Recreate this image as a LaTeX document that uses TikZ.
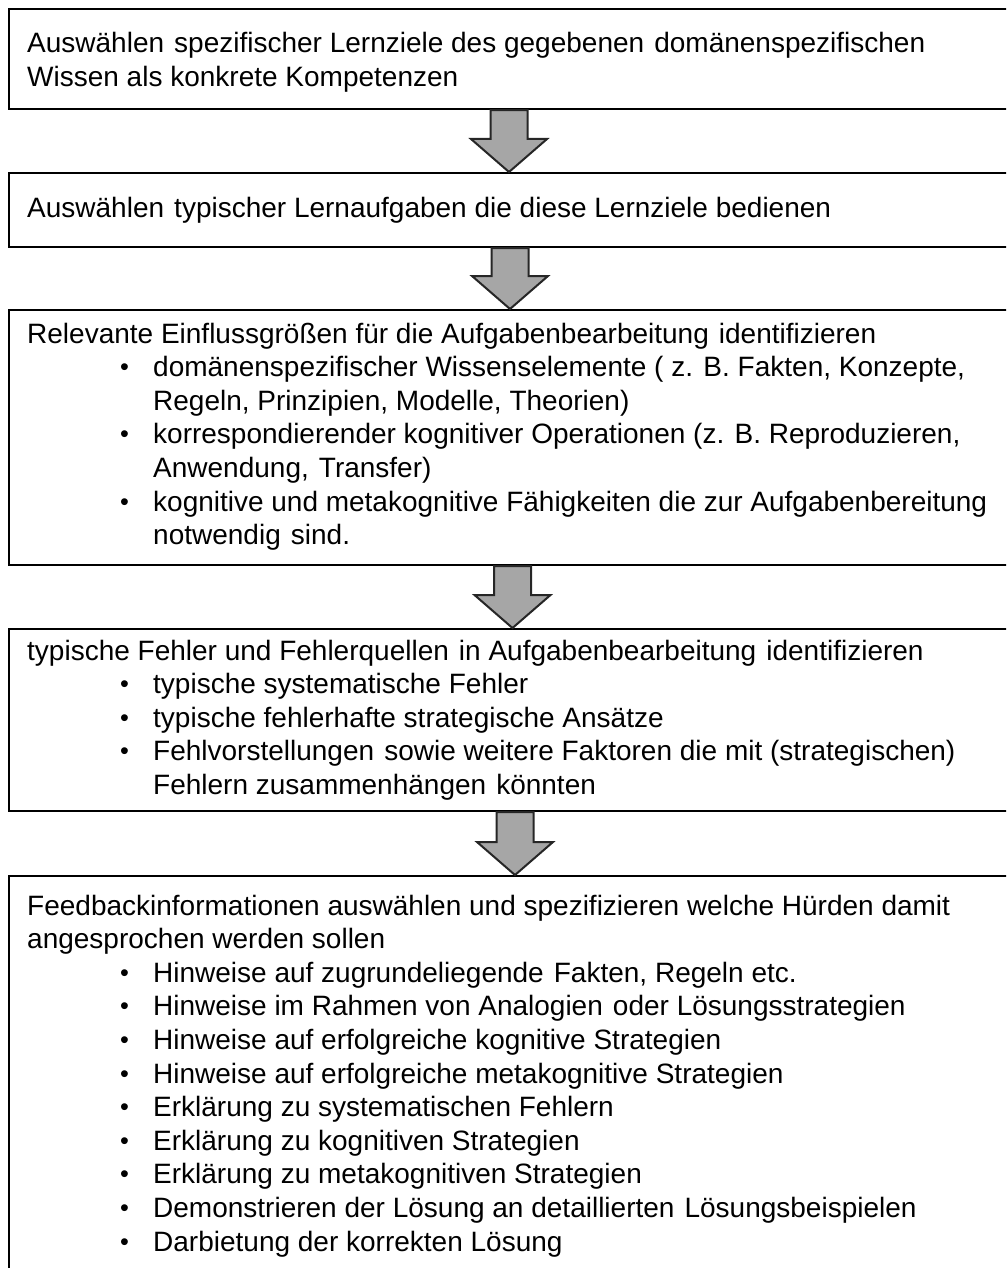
\documentclass[tikz,border=0pt]{standalone}
\usepackage{fontspec}
\usepackage{graphicx}
\setmainfont{Liberation Sans}
\usetikzlibrary{calc}

\tikzset{
  stage/.style={draw=black, line width=2.2pt, fill=white, anchor=north west,
                minimum width=1012pt, inner sep=0pt},
  stagetext/.style={anchor=base west, inner sep=0pt},
  flow/.style={draw=black!85, line width=2pt, fill=black!35, line join=miter},
}

% one block of text lines with fixed line pitch
\newcommand\lines[1]{\parbox[t]{960pt}{\fontsize{28pt}{33.6pt}\selectfont
  \lineskiplimit=-20pt #1}}
% bullet line: bullet indented, text on a fixed tab
\newcommand\bul[1]{\hspace*{93pt}\makebox[33pt][l]{\raisebox{1pt}{\scalebox{0.9}{•}}}#1}
\newcommand\cont[1]{\hspace*{126pt}#1}
% slightly wider word gap
\newcommand\gap{\hspace{0.36em}}

% block arrow from the bottom of one stage to the top of the next
\newcommand\flowarrow[3]{%
  \draw[flow] let \p1=(#1.south), \p2=(#2.north) in
    ({#3pt-18.5pt},\y1) -- ({#3pt+18.5pt},\y1) -- ({#3pt+18.5pt},\y2+33pt)
    -- ({#3pt+38pt},\y2+33pt) -- (#3pt,\y2) -- ({#3pt-38pt},\y2+33pt)
    -- ({#3pt-18.5pt},\y2+33pt) -- cycle;}

\begin{document}
\begin{tikzpicture}[x=1pt,y=-1pt]
\useasboundingbox (0,0) rectangle (1006,1268);
\clip (0,0) rectangle (1006,1268);

% stages
\node[stage, minimum height=100pt] (s1) at (8,8) {};
\node[stage, minimum height=74pt]  (s2) at (8,172) {};
\node[stage, minimum height=255pt] (s3) at (8,309) {};
\node[stage, minimum height=182pt] (s4) at (8,628) {};
\node[stage, minimum height=415pt] (s5) at (8,875) {};

% stage texts
\node[stagetext] (t1) at (27,53) {\lines{%
  Auswählen\gap spezifischer Lernziele des gegebenen\gap domänenspezifischen\\
  Wissen als konkrete Kompetenzen}};
\node[stagetext] (t2) at (27,218) {\lines{%
  Auswählen\gap typischer Lernaufgaben die diese Lernziele bedienen}};
\node[stagetext] (t3) at (27,343) {\lines{%
  Relevante Einflussgrößen für die Aufgabenbearbeitung\gap identifizieren\\
  \bul{domänenspezifischer Wissenselemente ( z. B. Fakten, Konzepte,}\\
  \cont{Regeln, Prinzipien, Modelle, Theorien)}\\
  \bul{korrespondierender kognitiver Operationen (z. B. Reproduzieren,}\\
  \cont{Anwendung,\gap Transfer)}\\
  \bul{kognitive  und  metakognitive  Fähigkeiten die zur Aufgabenbereitung}\\
  \cont{notwendig\gap sind.}}};
\node[stagetext] (t4) at (27,660) {\lines{%
  typische Fehler und Fehlerquellen\gap in Aufgabenbearbeitung\gap identifizieren\\
  \bul{typische systematische Fehler}\\
  \bul{typische fehlerhafte strategische Ansätze}\\
  \bul{Fehlvorstellungen\gap sowie weitere Faktoren die mit (strategischen)}\\
  \cont{Fehlern zusammenhängen\gap könnten}}};
\node[stagetext] (t5) at (27,915) {\lines{%
  Feedbackinformationen  auswählen  und  spezifizieren welche Hürden damit\\
  angesprochen werden sollen\\
  \bul{Hinweise auf zugrundeliegende\gap Fakten, Regeln etc.}\\
  \bul{Hinweise im Rahmen von Analogien\gap oder Lösungsstrategien}\\
  \bul{Hinweise auf erfolgreiche kognitive  Strategien}\\
  \bul{Hinweise auf erfolgreiche metakognitive  Strategien}\\
  \bul{Erklärung zu systematischen Fehlern}\\
  \bul{Erklärung zu kognitiven  Strategien}\\
  \bul{Erklärung zu metakognitiven  Strategien}\\
  \bul{Demonstrieren der Lösung an detaillierten\gap Lösungsbeispielen}\\
  \bul{Darbietung der korrekten Lösung}}};

% connecting arrows
\flowarrow{s1}{s2}{509}
\flowarrow{s2}{s3}{510}
\flowarrow{s3}{s4}{512.5}
\flowarrow{s4}{s5}{515}
\end{tikzpicture}
\end{document}
